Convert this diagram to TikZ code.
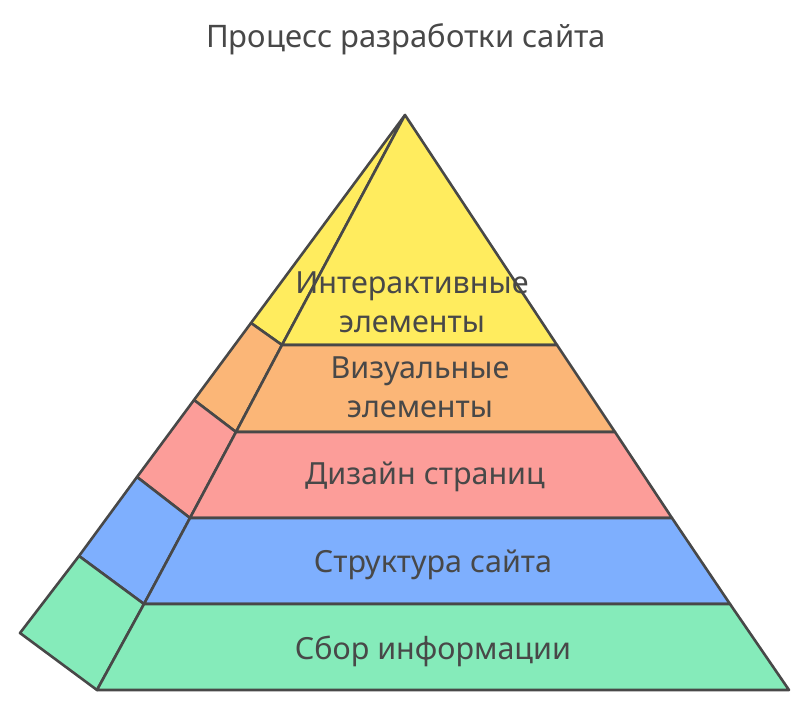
\documentclass[tikz,border=0pt]{standalone}
\usepackage{fontspec}
\setmainfont{Noto Sans}
\definecolor{ln}{HTML}{484848}
\definecolor{cyel}{HTML}{FFEC5E}
\definecolor{cora}{HTML}{FBB677}
\definecolor{cpin}{HTML}{FC9D99}
\definecolor{cblu}{HTML}{7EAFFE}
\definecolor{cgrn}{HTML}{85EBBA}
\begin{document}
\begin{tikzpicture}[x=1pt,y=-1pt,
  face/.style={draw=ln,line width=2.6pt,line join=round},
  lbl/.style={text=ln,font=\fontsize{30.5}{38.5}\selectfont,align=center,inner sep=0pt,anchor=base}]
\useasboundingbox (0,0) rectangle (810,713);
% key points
\coordinate (A) at (405,115);
\coordinate (F1) at (282,345); \coordinate (S1) at (251,323); \coordinate (R1) at (557,345);
\coordinate (F2) at (236,432); \coordinate (S2) at (194,400); \coordinate (R2) at (615,432);
\coordinate (F3) at (190,518); \coordinate (S3) at (137,477); \coordinate (R3) at (672,518);
\coordinate (F4) at (144,604); \coordinate (S4) at (79,556);  \coordinate (R4) at (730,604);
\coordinate (F5) at (97,690);  \coordinate (S5) at (20,633);  \coordinate (R5) at (789,690);
% side faces
\draw[face,fill=cyel] (A) -- (S1) -- (F1) -- cycle;
\draw[face,fill=cora] (S1) -- (S2) -- (F2) -- (F1) -- cycle;
\draw[face,fill=cpin] (S2) -- (S3) -- (F3) -- (F2) -- cycle;
\draw[face,fill=cblu] (S3) -- (S4) -- (F4) -- (F3) -- cycle;
\draw[face,fill=cgrn] (S4) -- (S5) -- (F5) -- (F4) -- cycle;
% front faces
\draw[face,fill=cyel] (A) -- (F1) -- (R1) -- cycle;
\draw[face,fill=cora] (F1) -- (F2) -- (R2) -- (R1) -- cycle;
\draw[face,fill=cpin] (F2) -- (F3) -- (R3) -- (R2) -- cycle;
\draw[face,fill=cblu] (F3) -- (F4) -- (R4) -- (R3) -- cycle;
\draw[face,fill=cgrn] (F4) -- (F5) -- (R5) -- (R4) -- cycle;
% labels
\node[lbl] (t1) at (412,332) {Интерактивные\\элементы};
\node[lbl] (t2) at (420,417) {Визуальные\\элементы};
\node[lbl] (t3) at (425,484) {Дизайн страниц};
\node[lbl] (t4) at (433,572) {Структура сайта};
\node[lbl] (t5) at (433,659) {Сбор информации};
\node[text=ln,font=\fontsize{31}{34}\selectfont,inner sep=0pt,anchor=base] (title) at (406,47) {Процесс разработки сайта};
\end{tikzpicture}
\end{document}
